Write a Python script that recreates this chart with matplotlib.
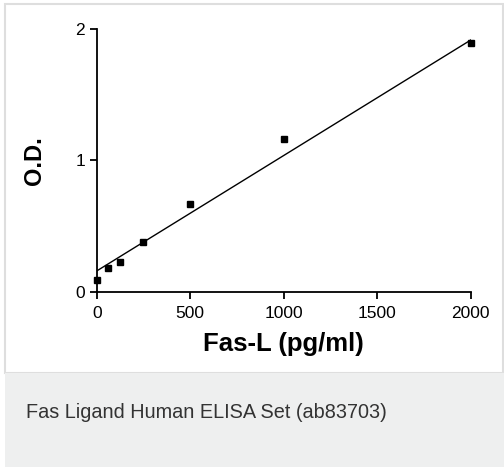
import matplotlib
matplotlib.use("Agg")
import matplotlib.pyplot as plt
from matplotlib.patches import Rectangle
import numpy as np

# standard curve data
conc = [0, 62.5, 125, 250, 500, 1000, 2000]
od = [0.089, 0.178, 0.229, 0.38, 0.667, 1.163, 1.896]
# fitted line as drawn in the figure
fit_intercept = 0.158
fit_slope = 0.00088
caption = "Fas Ligand Human ELISA Set (ab83703)"

plt.rcParams['font.family'] = ['Liberation Sans', 'DejaVu Sans']

W, H = 504, 467
fig = plt.figure(figsize=(W / 100, H / 100), dpi=100)
fig.patch.set_facecolor('white')

# card background: white plot area with light border, grey caption strip
fig.patches.append(Rectangle((5 / W, 94 / H), 498 / W, 369 / H, transform=fig.transFigure,
                             facecolor='white', edgecolor='#dedede', linewidth=1.5, zorder=-2))
fig.patches.append(Rectangle((5 / W, 0), 499 / W, 94 / H, transform=fig.transFigure,
                             facecolor='#eeefef', edgecolor='none', zorder=-2))
fig.text(26 / W, 1 - 413 / H, caption, fontsize=14.3, color='#333333', va='center', ha='left')

ax = fig.add_axes([96.7 / W, 1 - 291.7 / H, 374 / W, 262.4 / H])
ax.set_facecolor('none')
ax.set_zorder(2)

xf = np.array([0, 2000])
ax.plot(xf, fit_slope * xf + fit_intercept, color='black', linewidth=1)
ax.plot(conc, od, linestyle='none', marker='s', markersize=4.5, color='black', clip_on=False)

ax.set_xlim(0, 2000)
ax.set_ylim(0, 2)
ax.set_xticks([0, 500, 1000, 1500, 2000])
ax.set_yticks([0, 1, 2])
ax.spines['top'].set_visible(False)
ax.spines['right'].set_visible(False)
ax.spines['left'].set_linewidth(1.3)
ax.spines['bottom'].set_linewidth(1.3)
ax.tick_params(direction='out', length=5, width=1.3, labelsize=12.5, colors='black')
ax.tick_params(axis='x', pad=5)

ax.set_xlabel('Fas-L (pg/ml)', fontsize=18.5, fontweight='bold', labelpad=8)
ax.set_ylabel('O.D.', fontsize=17, fontweight='bold', labelpad=21)

fig.savefig('out.png', dpi=100)
